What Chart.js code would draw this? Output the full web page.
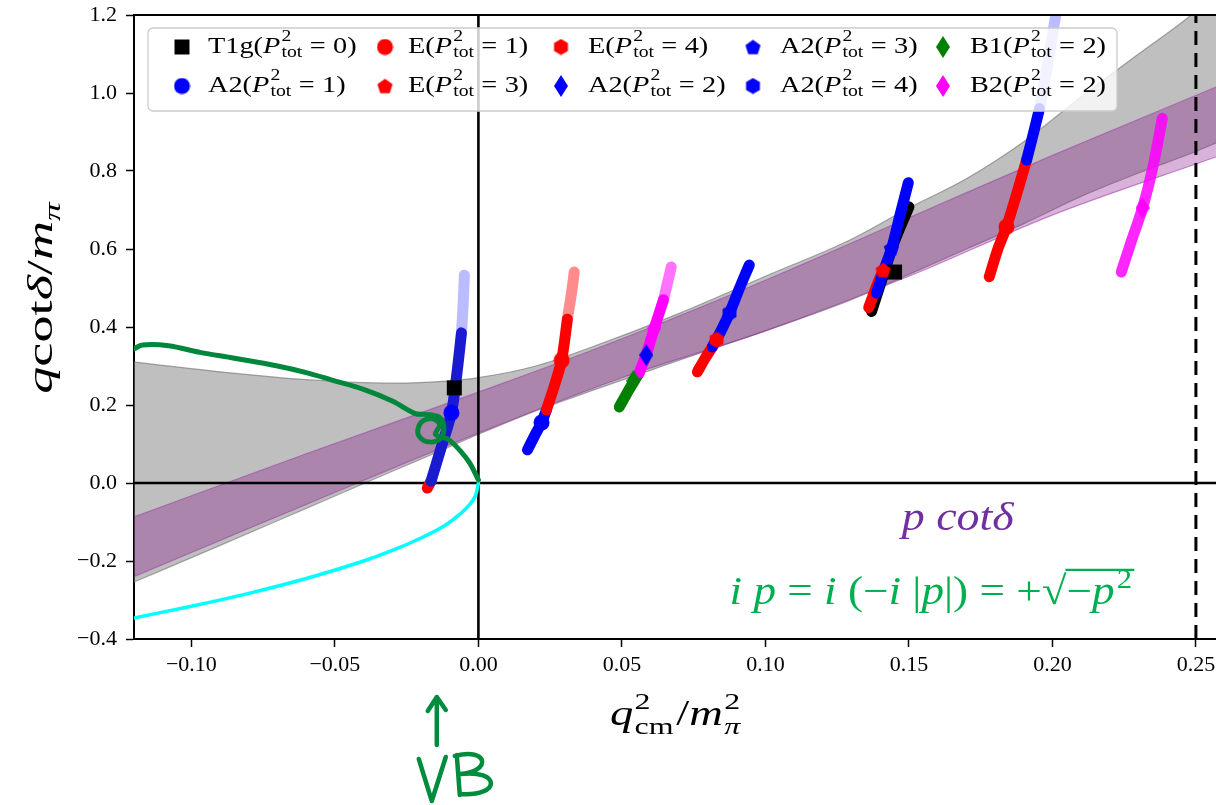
<!DOCTYPE html>
<html>
<head>
<meta charset="utf-8">
<script src="https://cdn.jsdelivr.net/npm/chart.js@4.4.0/dist/chart.umd.min.js"></script>
<style>
  html, body { margin: 0; padding: 0; overflow: hidden; background: #fff; }
  #wrap { width: 1260px; height: 805px; }
</style>
</head>
<body>
<div id="wrap"><canvas id="myChart" width="1260" height="805"></canvas></div>
<script>
// ticks
const xTicks = [-0.10, -0.05, 0.00, 0.05, 0.10, 0.15, 0.20, 0.25];
const yTicks = [-0.4, -0.2, 0.0, 0.2, 0.4, 0.6, 0.8, 1.0, 1.2];

// gray error band
const grayX     = [-0.12, -0.09, -0.06, -0.03, -0.01, 0.0, 0.02, 0.04, 0.07, 0.10, 0.13, 0.15, 0.17, 0.19, 0.21, 0.23, 0.25, 0.257];
const grayUpper = [0.31, 0.285, 0.265, 0.256, 0.262, 0.27, 0.30, 0.35, 0.435, 0.53, 0.625, 0.705, 0.78, 0.875, 0.99, 1.10, 1.21, 1.26];
const grayLower = [-0.254, -0.16, -0.065, 0.03, 0.093, 0.125, 0.185, 0.238, 0.315, 0.39, 0.47, 0.535, 0.60, 0.665, 0.735, 0.795, 0.85, 0.872];

// purple band (p cot delta)
const purpleX     = [-0.12, -0.06, 0.0, 0.05, 0.10, 0.15, 0.20, 0.257];
const purpleUpper = [-0.087, 0.075, 0.233, 0.37, 0.52, 0.68, 0.84, 1.015];
const purpleLower = [-0.24, -0.055, 0.128, 0.27, 0.39, 0.53, 0.687, 0.836];

// cyan curve
const cyanX = [-0.12, -0.10, -0.08, -0.06, -0.04, -0.03, -0.02, -0.012, -0.006, -0.003, -0.001, 0.0];
const cyanY = [-0.346, -0.316, -0.283, -0.245, -0.2, -0.173, -0.141, -0.11, -0.077, -0.055, -0.032, 0.0];

// hand drawn green curve with the little loop
const greenX = [-0.12, -0.117, -0.108, -0.097, -0.085, -0.07, -0.06, -0.051, -0.04, -0.03, -0.022, -0.0185, -0.0135, -0.012, -0.0135, -0.018, -0.021, -0.020, -0.016, -0.0135, -0.015, -0.0125, -0.0101, -0.006, -0.003, 0.0];
const greenY = [0.344, 0.354, 0.352, 0.335, 0.32, 0.30, 0.283, 0.264, 0.24, 0.21, 0.178, 0.176, 0.168, 0.14, 0.112, 0.106, 0.125, 0.155, 0.165, 0.15, 0.125, 0.118, 0.11, 0.08, 0.051, 0.008];

// level trails
const tr1RedX = [-0.0178, -0.0165];            const tr1RedY = [-0.013, 0.005];
const tr1BlueX = [-0.0165, -0.013, -0.0094, -0.0075, -0.0059]; const tr1BlueY = [0.005, 0.09, 0.18, 0.28, 0.385];
const tr1FadeX = [-0.0059, -0.0053, -0.0049];   const tr1FadeY = [0.385, 0.46, 0.533];

const tr2BlueX = [0.0171, 0.0195, 0.022, 0.0237]; const tr2BlueY = [0.085, 0.12, 0.155, 0.187];
const tr2RedX = [0.0237, 0.0265, 0.029, 0.031];   const tr2RedY = [0.187, 0.25, 0.315, 0.42];
const tr2FadeX = [0.031, 0.0325, 0.0334];         const tr2FadeY = [0.42, 0.49, 0.541];

const tr3GreenX = [0.0491, 0.0525, 0.056];        const tr3GreenY = [0.195, 0.24, 0.282];
const tr3PinkX = [0.056, 0.0585, 0.0613, 0.0645]; const tr3PinkY = [0.282, 0.33, 0.397, 0.47];
const tr3FadeX = [0.0645, 0.0672];                const tr3FadeY = [0.47, 0.554];

const tr4RedX = [0.0763, 0.079, 0.0815];          const tr4RedY = [0.285, 0.32, 0.349];
const tr4BlueX = [0.0815, 0.0845, 0.0875, 0.091, 0.0944]; const tr4BlueY = [0.349, 0.39, 0.436, 0.5, 0.559];

const tr5BlackX = [0.137, 0.1405, 0.145, 0.150];  const tr5BlackY = [0.44, 0.52, 0.62, 0.708];
const tr5RedX = [0.136, 0.1385, 0.141];           const tr5RedY = [0.45, 0.5, 0.546];
const tr5BlueX = [0.1387, 0.1415, 0.144, 0.147, 0.1498]; const tr5BlueY = [0.487, 0.55, 0.602, 0.69, 0.77];

const tr6RedX = [0.178, 0.181, 0.184, 0.1875, 0.191]; const tr6RedY = [0.529, 0.6, 0.657, 0.74, 0.828];
const tr6BlueX = [0.191, 0.1935, 0.1955];         const tr6BlueY = [0.828, 0.9, 0.96];
const tr6FadeX = [0.1955, 0.198, 0.2005, 0.203];  const tr6FadeY = [0.96, 1.06, 1.17, 1.28];

const tr7PinkX = [0.224, 0.2275, 0.2314, 0.235, 0.2383]; const tr7PinkY = [0.541, 0.62, 0.705, 0.81, 0.935];

// central markers of each level
const t1gX = [-0.0084, 0.145];          const t1gY = [0.244, 0.541];
const a2p1X = [-0.0094, 0.022];         const a2p1Y = [0.18, 0.155];
const ep1X = [0.029, 0.184];            const ep1Y = [0.315, 0.657];
const ep3X = [0.141];                   const ep3Y = [0.546];
const ep4X = [0.083];                   const ep4Y = [0.367];
const a2p2X = [0.0585];                 const a2p2Y = [0.328];
const a2p3X = [0.1439];                 const a2p3Y = [0.602];
const a2p4X = [0.0875];                 const a2p4Y = [0.436];
const b1X = [0.054];                    const b1Y = [0.262];
const b2X = [0.0613, 0.2314];           const b2Y = [0.397, 0.705];

// legend (column-major, like matplotlib ncol=5)
const legendNames = ['T1g', 'A2', 'E', 'E', 'E', 'A2', 'A2', 'A2', 'B1', 'B2'];
const legendP     = [0, 1, 1, 3, 4, 2, 3, 4, 2, 2];
const legendShape = ['square', 'circle', 'circle', 'pentagon', 'hexagon', 'thin_diamond', 'pentagon', 'hexagon', 'thin_diamond', 'thin_diamond'];
const legendColor = ['#000000', '#0000ff', '#ff0000', '#ff0000', '#ff0000', '#0000ff', '#0000ff', '#0000ff', '#008000', '#ff00ff'];

const RED = '#ff0000', BLUE = '#0000ff', PINK = '#ff00ff', GRN = '#008000';
const SERIF = '"Liberation Serif", "DejaVu Serif", serif';

function pts(xs, ys) { return xs.map((x, i) => ({ x: x, y: ys[i] })); }

function makeMarker(shape, color) {
  const w = shape === 'thin_diamond' ? 14 : 17;
  const h = shape === 'thin_diamond' ? 22 : 17;
  const c = document.createElement('canvas');
  c.width = w; c.height = h;
  const g = c.getContext('2d');
  g.fillStyle = color;
  g.beginPath();
  const r = w / 2;
  if (shape === 'square') {
    g.rect(1, 1, w - 2, h - 2);
  } else if (shape === 'circle') {
    g.arc(r, r, r - 0.5, 0, Math.PI * 2);
  } else if (shape === 'pentagon' || shape === 'hexagon') {
    const n = shape === 'pentagon' ? 5 : 6;
    for (let i = 0; i < n; i++) {
      const a = -Math.PI / 2 + i * 2 * Math.PI / n;
      const px = r + (r - 0.5) * Math.cos(a), py = r + (r - 0.5) * Math.sin(a) + (n === 5 ? 0.8 : 0);
      if (i) g.lineTo(px, py); else g.moveTo(px, py);
    }
    g.closePath();
  } else {
    g.moveTo(w / 2, 0); g.lineTo(w, h / 2); g.lineTo(w / 2, h); g.lineTo(0, h / 2); g.closePath();
  }
  g.fill();
  return c;
}

const datasets = [];
function band(xs, lo, hi, fillColor, edgeColor) {
  const common = { borderColor: edgeColor, borderWidth: 1.2, pointRadius: 0, cubicInterpolationMode: 'monotone' };
  datasets.push(Object.assign({ data: pts(xs, lo), fill: false }, common));
  datasets.push(Object.assign({ data: pts(xs, hi), fill: '-1', backgroundColor: fillColor }, common));
}
function curve(xs, ys, color, width, extra) {
  datasets.push(Object.assign({ data: pts(xs, ys), borderColor: color, borderWidth: width, pointRadius: 0, fill: false,
    borderCapStyle: 'round', borderJoinStyle: 'round', tension: 0.3 }, extra || {}));
}
function markers(xs, ys, shape, color) {
  datasets.push({ data: pts(xs, ys), showLine: false, pointRadius: 8, pointStyle: makeMarker(shape, color) });
}

band(grayX, grayLower, grayUpper, 'rgba(128,128,128,0.5)', 'rgba(110,110,110,0.6)');
band(purpleX, purpleLower, purpleUpper, 'rgba(128,0,128,0.3)', 'rgba(150,50,170,0.5)');

// zero lines and the dashed threshold
curve([-0.12, 0.257], [0, 0], '#000', 2.6, { tension: 0, borderCapStyle: 'butt' });
curve([0, 0], [-0.4, 1.2], '#000', 2.6, { tension: 0, borderCapStyle: 'butt' });
curve([0.25, 0.25], [-0.4, 1.2], '#000', 3, { tension: 0, borderCapStyle: 'butt', borderDash: [14, 8] });

curve(cyanX, cyanY, '#00ffff', 3.5);

const TW = 11;
curve(tr1RedX, tr1RedY, RED, TW);
curve(tr1FadeX, tr1FadeY, 'rgba(60,60,255,0.35)', TW);
curve(tr1BlueX, tr1BlueY, '#1a1ad0', TW);
curve(tr2BlueX, tr2BlueY, BLUE, TW);
curve(tr2FadeX, tr2FadeY, 'rgba(255,0,0,0.45)', TW);
curve(tr2RedX, tr2RedY, RED, TW);
curve(tr3GreenX, tr3GreenY, GRN, TW);
curve(tr3FadeX, tr3FadeY, 'rgba(255,0,255,0.55)', TW);
curve(tr3PinkX, tr3PinkY, PINK, TW);
curve(tr4RedX, tr4RedY, RED, TW);
curve(tr4BlueX, tr4BlueY, BLUE, TW);
curve(tr5BlackX, tr5BlackY, '#000', TW);
curve(tr5RedX, tr5RedY, RED, TW);
curve(tr5BlueX, tr5BlueY, BLUE, TW);
curve(tr6FadeX, tr6FadeY, 'rgba(60,60,255,0.35)', TW);
curve(tr6RedX, tr6RedY, RED, TW);
curve(tr6BlueX, tr6BlueY, BLUE, TW);
curve(tr7PinkX, tr7PinkY, 'rgba(255,0,255,0.85)', TW);

markers(t1gX, t1gY, 'square', '#000');
markers(ep1X, ep1Y, 'circle', RED);
markers(ep3X, ep3Y, 'pentagon', RED);
markers(ep4X, ep4Y, 'hexagon', RED);
markers(a2p1X, a2p1Y, 'circle', BLUE);
markers(a2p2X, a2p2Y, 'thin_diamond', BLUE);
markers(a2p3X, a2p3Y, 'pentagon', BLUE);
markers(a2p4X, a2p4Y, 'hexagon', BLUE);
markers(b1X, b1Y, 'thin_diamond', GRN);
markers(b2X, b2Y, 'thin_diamond', PINK);

curve(greenX, greenY, 'rgb(0,135,60)', 5, { tension: 0.35 });

// first in the list is painted first
datasets.forEach((d, i) => { d.order = datasets.length - i; });

// draws a run of [text, font, dy] pieces, returns the end x
function run(ctx, parts, x, y) {
  for (const [t, f, dy] of parts) {
    ctx.font = f;
    ctx.fillText(t, x, y + (dy || 0));
    x += ctx.measureText(t).width;
  }
  return x;
}
function runWidth(ctx, parts) {
  let w = 0;
  for (const [t, f] of parts) { ctx.font = f; w += ctx.measureText(t).width; }
  return w;
}

// legend text, stretched to the width of the Computer Modern original
function legendLabel(ctx, x, y, name, p) {
  ctx.save();
  ctx.translate(x, y); ctx.scale(1.23, 1);
  x = 0; y = 0;
  ctx.font = '23px ' + SERIF;
  ctx.fillText(name + '(', x, y);
  x += ctx.measureText(name + '(').width;
  ctx.font = 'italic 23px ' + SERIF;
  ctx.fillText('P', x, y);
  x += ctx.measureText('P').width + 1;
  ctx.font = '16px ' + SERIF;
  ctx.fillText('2', x, y - 10);
  ctx.fillText('tot', x, y + 6);
  x += ctx.measureText('tot').width + 6;
  ctx.font = '23px ' + SERIF;
  ctx.fillText('=', x, y);
  x += ctx.measureText('=').width + 6;
  ctx.fillText(p + ')', x, y);
  ctx.restore();
}

const decorPlugin = {
  id: 'decor',
  afterDatasetsDraw(chart) {
    const ctx = chart.ctx, a = chart.chartArea;
    ctx.save();
    ctx.strokeStyle = '#000'; ctx.lineWidth = 2;
    ctx.beginPath(); ctx.moveTo(a.left - 1, a.top); ctx.lineTo(a.right, a.top); ctx.stroke();
    ctx.restore();
  },
  afterDraw(chart) {
    const ctx = chart.ctx, a = chart.chartArea;
    const xs = chart.scales.x, ys = chart.scales.y;
    ctx.save();

    // legend box
    const bx = a.left + 14, by = a.top + 13, bw = 969, bh = 83;
    ctx.fillStyle = 'rgba(255,255,255,0.8)';
    ctx.strokeStyle = '#cccccc'; ctx.lineWidth = 1.3;
    ctx.beginPath(); ctx.roundRect(bx, by, bw, bh, 5); ctx.fill(); ctx.stroke();
    const markerDx = [34, 237, 413, 605, 795];
    const textDx = [60, 260, 440, 632, 822];
    const rowDy = [19, 58];
    ctx.textBaseline = 'middle';
    for (let i = 0; i < legendNames.length; i++) {
      const col = Math.floor(i / 2), row = i % 2;
      const m = makeMarker(legendShape[i], legendColor[i]);
      ctx.drawImage(m, bx + markerDx[col] - m.width / 2, by + rowDy[row] - m.height / 2);
      ctx.fillStyle = '#000';
      legendLabel(ctx, bx + textDx[col], by + rowDy[row], legendNames[i], legendP[i]);
    }

    // axis titles
    ctx.fillStyle = '#000'; ctx.textBaseline = 'alphabetic';
    const big = '35px ' + SERIF, bigI = 'italic 35px ' + SERIF, sm = 'italic 24px ' + SERIF, smN = '24px ' + SERIF;
    const cx = (a.left + a.right) / 2;
    ctx.save();
    ctx.translate(cx - 65, a.bottom + 86); ctx.scale(1.33, 1);
    let x = run(ctx, [['q', bigI]], 0, 0);
    ctx.font = smN; ctx.fillText('2', x + 1, -16); ctx.fillText('cm', x + 1, 9);
    x += ctx.measureText('cm').width + 3;
    x = run(ctx, [['/', big], ['m', bigI]], x, 0);
    ctx.font = smN; ctx.fillText('2', x + 1, -16); ctx.font = sm; ctx.fillText('π', x + 1, 9);
    ctx.restore();

    const yb = '35px ' + SERIF, ybI = 'italic 35px ' + SERIF, ysm = 'italic 24px ' + SERIF;
    const yParts = [['q', ybI], ['cot', yb], ['δ', ybI], ['/', yb], ['m', ybI], ['π', ysm, 8]];
    ctx.save();
    ctx.translate(40, 298); ctx.rotate(-Math.PI / 2); ctx.scale(1.55, 1);
    run(ctx, yParts, -runWidth(ctx, yParts) / 2, 12);
    ctx.restore();

    // annotations
    ctx.fillStyle = '#7030a0';
    ctx.save();
    ctx.translate(xs.getPixelForValue(0.167), ys.getPixelForValue(-0.12)); ctx.scale(1.15, 1);
    ctx.font = 'italic 40px ' + SERIF; ctx.textAlign = 'center';
    ctx.fillText('p cotδ', 0, 0);
    ctx.restore();

    ctx.fillStyle = '#00b050';
    const fI = 'italic 40px ' + SERIF, fN = '40px ' + SERIF;
    ctx.save();
    ctx.translate(xs.getPixelForValue(0.0875), ys.getPixelForValue(-0.31)); ctx.scale(1.13, 1);
    let gx = run(ctx, [['i', fI], [' ', fN], ['p', fI], [' = ', fN], ['i', fI], [' (−', fN], ['i', fI], [' |', fN], ['p', fI], ['|) = +', fN], ['√', fN]], 0, 0);
    const sx = gx;
    gx = run(ctx, [['−', fN], ['p', fI]], gx, 0);
    ctx.font = '27px ' + SERIF; ctx.fillText('2', gx + 2, -16);
    gx += ctx.measureText('2').width + 4;
    ctx.strokeStyle = '#00b050'; ctx.lineWidth = 2.4;
    ctx.beginPath(); ctx.moveTo(sx - 1, -34); ctx.lineTo(gx, -34); ctx.stroke();
    ctx.restore();

    // hand drawn arrow and VB
    const ax = xs.getPixelForValue(-0.0145), b = a.bottom;
    ctx.strokeStyle = 'rgb(0,140,60)'; ctx.lineWidth = 4.5; ctx.lineCap = 'round'; ctx.lineJoin = 'round';
    ctx.beginPath();
    ctx.moveTo(ax, b + 106); ctx.lineTo(ax, b + 59);
    ctx.moveTo(ax - 9, b + 72); ctx.lineTo(ax, b + 58); ctx.lineTo(ax + 9, b + 71);
    ctx.moveTo(ax - 18, b + 120); ctx.lineTo(ax - 5, b + 162); ctx.lineTo(ax + 9, b + 118);
    ctx.moveTo(ax + 20, b + 116); ctx.lineTo(ax + 23, b + 156);
    ctx.moveTo(ax + 18, b + 117);
    ctx.bezierCurveTo(ax + 52, b + 108, ax + 55, b + 133, ax + 23, b + 135);
    ctx.bezierCurveTo(ax + 64, b + 130, ax + 65, b + 158, ax + 23, b + 155);
    ctx.stroke();
    ctx.restore();
  }
};

function fmt(v, d) { return v.toFixed(d).replace('-', '\u2212'); }

const config = {
  type: 'line',
  data: { datasets: datasets },
  options: {
    responsive: false,
    animation: false,
    events: [],
    layout: { padding: { top: 15, right: 44, bottom: 0, left: 0 } },
    plugins: { legend: { display: false }, tooltip: { enabled: false } },
    scales: {
      x: {
        type: 'linear', min: -0.12, max: 0.257,
        afterBuildTicks: (s) => { s.ticks = xTicks.map(v => ({ value: v })); },
        afterFit: (s) => { s.height = 166; s.paddingLeft = 0; s.paddingRight = 0; },
        grid: { drawOnChartArea: false, drawTicks: true, tickLength: 8, tickColor: '#000', tickWidth: 1.5 },
        border: { display: true, color: '#000', width: 2 },
        ticks: { color: '#000', padding: 5, maxRotation: 0, font: { family: SERIF, size: 22 }, callback: (v) => fmt(v, 2) }
      },
      y: {
        type: 'linear', min: -0.4, max: 1.2,
        afterBuildTicks: (s) => { s.ticks = yTicks.map(v => ({ value: v })); },
        afterFit: (s) => { s.width = 134; s.paddingTop = 0; s.paddingBottom = 0; },
        grid: { drawOnChartArea: false, drawTicks: true, tickLength: 8, tickColor: '#000', tickWidth: 1.5 },
        border: { display: true, color: '#000', width: 2 },
        ticks: { color: '#000', padding: 9, font: { family: SERIF, size: 22 }, callback: (v) => fmt(v, 1) }
      }
    }
  },
  plugins: [decorPlugin]
};

const myChart = new Chart(document.getElementById('myChart'), config);
</script>
</body>
</html>
